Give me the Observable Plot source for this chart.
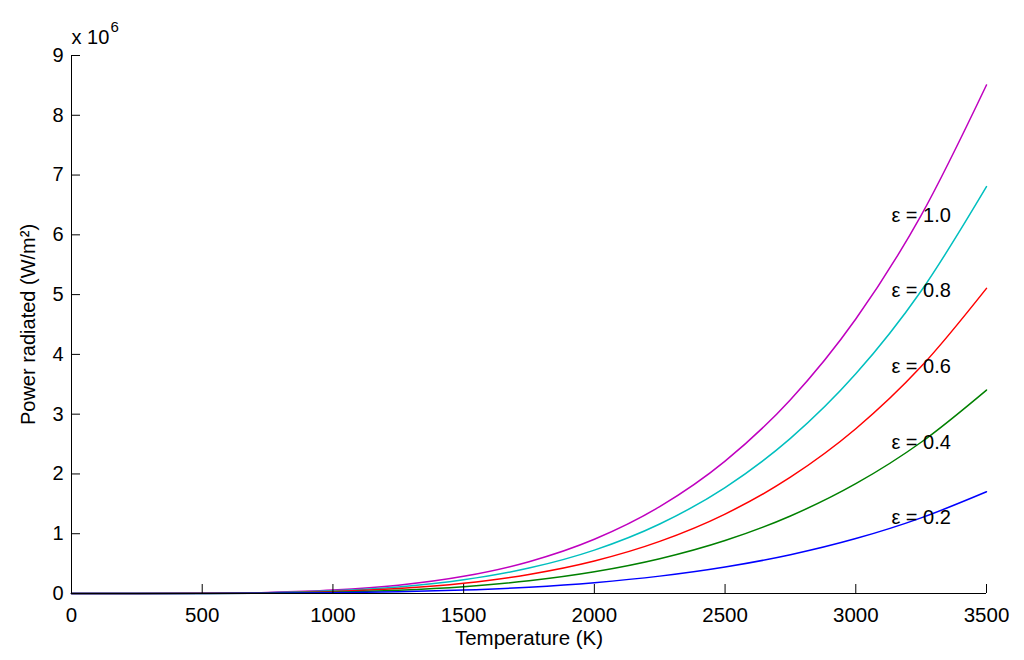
<!DOCTYPE html>
<html><head><meta charset="utf-8">
<script src="https://cdn.jsdelivr.net/npm/d3@7"></script>
<script src="https://cdn.jsdelivr.net/npm/@observablehq/plot@0.6"></script>
<style>body{margin:0;background:#fff}</style>
</head><body><div id="chart"></div>
<script>
// Temperature samples (K)
const temperatures = [0,250,500,750,1000,1250,1500,1750,2000,2250,2500,2750,3000,3250,3500];
// Power radiated, in units of 10^6 W/m^2
const power_e10 = [0,0.0002,0.0035,0.0179,0.0567,0.1384,0.2870,0.5318,0.9072,1.4532,2.2148,3.2427,4.5927,6.3260,8.5080];
const power_e08 = [0,0.0002,0.0028,0.0144,0.0454,0.1107,0.2296,0.4254,0.7258,1.1626,1.7718,2.5942,3.6742,5.0608,6.8064];
const power_e06 = [0,0.0001,0.0021,0.0108,0.0340,0.0830,0.1722,0.3191,0.5443,0.8719,1.3289,1.9456,2.7556,3.7956,5.1048];
const power_e04 = [0,0.0001,0.0014,0.0072,0.0227,0.0554,0.1148,0.2127,0.3629,0.5813,0.8859,1.2971,1.8371,2.5304,3.4032];
const power_e02 = [0,0.0000,0.0007,0.0036,0.0113,0.0277,0.0574,0.1064,0.1814,0.2906,0.4430,0.6485,0.9185,1.2652,1.7016];
const emissivities = ["1.0","0.8","0.6","0.4","0.2"];
const seriesValues = [power_e10, power_e08, power_e06, power_e04, power_e02];
const seriesColors = ["#bf00bf","#00bfbf","#ff0000","#008000","#0000ff"];
const xTicks = [0,500,1000,1500,2000,2500,3000,3500];
const yTicks = [0,1,2,3,4,5,6,7,8,9];
const labelTemperature = 3250;

const rows = [];
emissivities.forEach((e, s) => {
  temperatures.forEach((t, i) => rows.push({T: t, P: seriesValues[s][i], eps: e}));
});
const labels = rows.filter(d => d.T === labelTemperature).map(d => ({...d, text: "ε = " + d.eps}));

const chart = Plot.plot({
  width: 1024, height: 660,
  marginLeft: 71, marginRight: 38, marginTop: 55, marginBottom: 67,
  style: {fontFamily: "'Liberation Sans', Arial, Helvetica, sans-serif", fontSize: "20px", color: "#000", background: "#fff", overflow: "visible"},
  x: {domain: [0, 3500]},
  y: {domain: [0, 9]},
  color: {domain: emissivities, range: seriesColors},
  marks: [
    Plot.line(rows, {x: "T", y: "P", z: "eps", stroke: "eps", strokeWidth: 1.5, curve: "monotone-x"}),
    Plot.axisX({ticks: xTicks, tickSize: -9, tickPadding: 23, tickFormat: "d", label: "Temperature (K)", labelAnchor: "center", labelArrow: "none", labelOffset: 51, fontSize: 20.5}),
    Plot.axisY({ticks: yTicks, tickSize: -9, tickPadding: 17, tickFormat: "d", label: "Power radiated (W/m²)", labelAnchor: "center", labelArrow: "none", labelOffset: 51, fontSize: 20}),
    Plot.ruleX([0]),
    Plot.ruleY([0]),
    Plot.text(labels, {x: "T", y: "P", text: "text", fontSize: 20, fill: "#000"}),
    Plot.text(["x 10"], {frameAnchor: "top-left", text: d => d, textAnchor: "start", lineAnchor: "bottom", dy: -12, fontSize: 20, fill: "#000"}),
    Plot.text(["6"], {frameAnchor: "top-left", text: d => d, textAnchor: "start", lineAnchor: "bottom", dx: 39, dy: -24, fontSize: 15, fill: "#000"})
  ]
});
document.getElementById("chart").append(chart);
</script>
</body></html>
